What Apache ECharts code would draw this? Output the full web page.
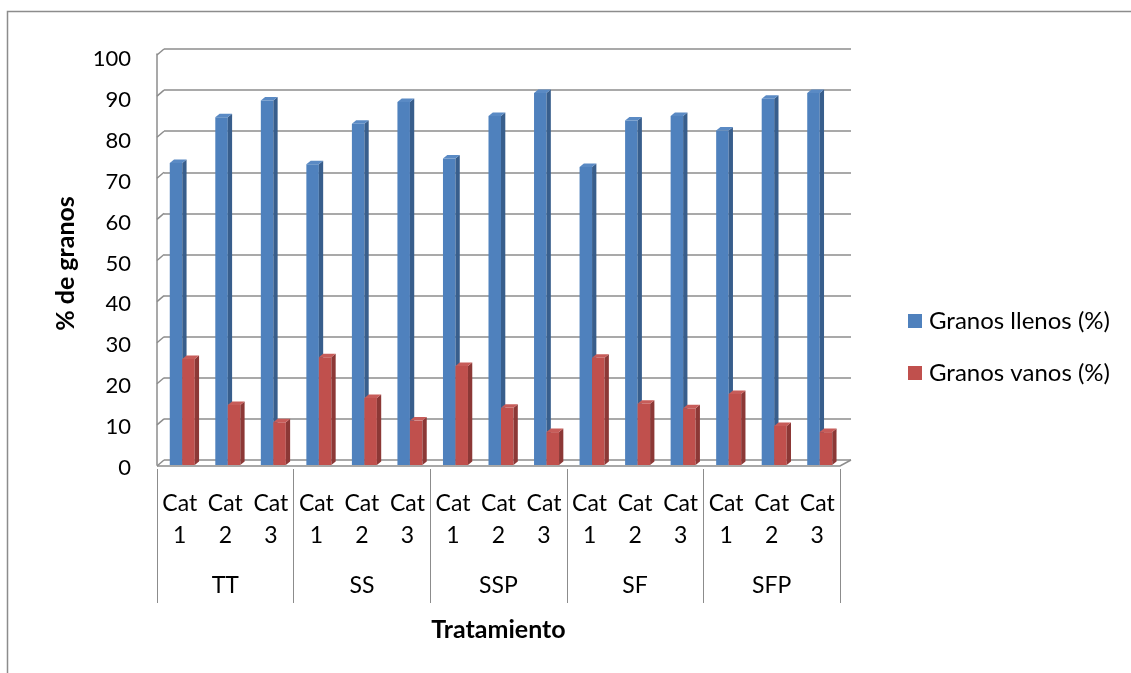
<!DOCTYPE html>
<html>
<head>
<meta charset="utf-8">
<script src="https://cdn.jsdelivr.net/npm/echarts@6/dist/echarts.min.js"></script>
<style>
html,body{margin:0;padding:0;background:#fff;}
#c{width:1131px;height:673px;}
</style>
</head>
<body>
<div id="c"></div>
<script>
const groups = ['TT', 'SS', 'SSP', 'SF', 'SFP'];
const subCats = ['Cat 1', 'Cat 2', 'Cat 3'];
const llenos = [73.5, 84.6, 88.7, 73.2, 83.0, 88.3, 74.6, 84.9, 90.5, 72.5, 83.8, 84.9, 81.4, 89.1, 90.5];
const vanos  = [25.8, 14.6, 10.4, 26.2, 16.3, 10.8, 24.1, 13.9, 8.0, 26.1, 14.9, 13.8, 17.3, 9.5, 8.0];
const yTicks = [0, 10, 20, 30, 40, 50, 60, 70, 80, 90, 100];
const seriesNames = ['Granos llenos (%)', 'Granos vanos (%)'];

const categories = [];
groups.forEach(() => subCats.forEach(c => categories.push(c.replace(' ', '\n'))));

const FONT = 'Lato';
const GRAY = '#8c8c8c';
const DX = 4.3, DY = 3.5;

function makeBar(offL, offR, front, side, topc) {
  return function (params, api) {
    const idx = api.value(0);
    const v = api.value(1);
    const base = api.coord([idx, 0]);
    const top = api.coord([idx, v]);
    const cx = base[0];
    const x0 = cx + offL, x1 = cx + offR;
    const yb = base[1], yt = top[1];
    return {
      type: 'group',
      children: [
        { type: 'rect', shape: { x: x0, y: yt, width: x1 - x0, height: yb - yt }, style: { fill: front } },
        { type: 'polygon', shape: { points: [[x1, yt], [x1 + DX, yt - DY], [x1 + DX, yb - DY], [x1, yb]] }, style: { fill: side } },
        { type: 'polygon', shape: { points: [[x0, yt], [x1, yt], [x1 + DX, yt - DY], [x0 + DX, yt - DY]] }, style: { fill: topc } }
      ]
    };
  };
}

const chart = echarts.init(document.getElementById('c'), null, { renderer: 'canvas' });

chart.setOption({
  backgroundColor: '#fff',
  animation: false,
  textStyle: { fontFamily: FONT },
  graphic: [{
    type: 'rect', silent: true, z: -10,
    shape: { x: 7.5, y: 11.5, width: 1300, height: 800 },
    style: { fill: 'none', stroke: GRAY, lineWidth: 1.5 }
  }],
  legend: {
    orient: 'vertical', left: 903, top: 304, itemGap: 28,
    itemWidth: 14, itemHeight: 14, icon: 'rect',
    data: seriesNames,
    textStyle: { fontFamily: FONT, fontSize: 24, lineHeight: 24, color: '#000', padding: [0, 0, 0, 2] }
  },
  grid: [
    { left: 157, right: 291, top: 54, bottom: 208 },
    { left: 164, right: 280, top: 49, bottom: 213 },
    { left: 157, right: 291, top: 59, bottom: 205 }
  ],
  xAxis: [
    {
      type: 'category', gridIndex: 0, data: categories,
      axisLine: { show: false }, axisTick: { show: false },
      axisLabel: { interval: 0, fontFamily: FONT, fontSize: 23, color: '#000', lineHeight: 32, margin: 23 }
    },
    {
      type: 'category', gridIndex: 0, position: 'bottom', offset: 4, data: groups,
      axisLine: { show: false },
      axisTick: { show: true, length: 134, lineStyle: { color: GRAY, width: 1 } },
      axisLabel: { interval: 0, fontFamily: FONT, fontSize: 23, color: '#000', margin: 105 },
      name: 'Tratamiento', nameLocation: 'middle', nameGap: 148,
      nameTextStyle: { fontFamily: FONT, fontSize: 25, fontWeight: 'bold', color: '#000' }
    },
    { type: 'value', gridIndex: 1, min: 0, max: 1, show: false },
    { type: 'value', gridIndex: 2, min: 0, max: 1, show: false }
  ],
  yAxis: [
    {
      type: 'value', gridIndex: 0, min: 0, max: 100, interval: 10,
      axisLine: { show: true, lineStyle: { color: GRAY, width: 1.5 } },
      axisTick: { show: false }, splitLine: { show: false }, axisLabel: { show: false }
    },
    {
      type: 'value', gridIndex: 1, min: 0, max: 100, interval: 10,
      axisLine: { show: false }, axisTick: { show: false }, axisLabel: { show: false },
      splitLine: { show: true, lineStyle: { color: GRAY, width: 1.5 } }
    },
    {
      type: 'value', gridIndex: 2, min: 0, max: 100, interval: 10,
      axisLine: { show: false }, axisTick: { show: false }, splitLine: { show: false },
      axisLabel: { fontFamily: FONT, fontSize: 22, color: '#000', margin: 26 },
      name: '% de granos', nameLocation: 'middle', nameRotate: 90, nameGap: 79,
      nameTextStyle: { fontFamily: FONT, fontSize: 25, fontWeight: 'bold', color: '#000' }
    }
  ],
  series: [
    {
      type: 'custom', name: 'frame', xAxisIndex: 2, yAxisIndex: 1, z: 1, silent: true,
      data: yTicks.map(t => [0, t]),
      renderItem: function (params, api) {
        const p = api.coord([0, api.value(1)]);
        const cs = params.coordSys;
        const left = cs.x, right = cs.x + cs.width;
        const children = [
          { type: 'line', shape: { x1: left, y1: p[1], x2: left - 7, y2: p[1] + 6 }, style: { stroke: GRAY, lineWidth: 1.5 } }
        ];
        if (api.value(1) === 0) {
          children.push({ type: 'polyline', shape: { points: [[left - 7, p[1] + 6], [right - 11, p[1] + 6], [right, p[1]]] }, style: { stroke: GRAY, lineWidth: 1.5, fill: 'none' } });
        }
        return { type: 'group', children: children };
      }
    },
    {
      type: 'custom', name: seriesNames[0], xAxisIndex: 0, yAxisIndex: 0, z: 5,
      itemStyle: { color: '#4F81BD' },
      data: llenos.map((v, i) => [i, v]),
      renderItem: makeBar(-10, 2.5, '#4F81BD', '#385E8C', '#5A8AC4')
    },
    {
      type: 'custom', name: seriesNames[1], xAxisIndex: 0, yAxisIndex: 0, z: 6,
      itemStyle: { color: '#C0504D' },
      data: vanos.map((v, i) => [i, v]),
      renderItem: makeBar(2.5, 15, '#C0504D', '#8C3836', '#C75C59')
    }
  ]
});
</script>
</body>
</html>
